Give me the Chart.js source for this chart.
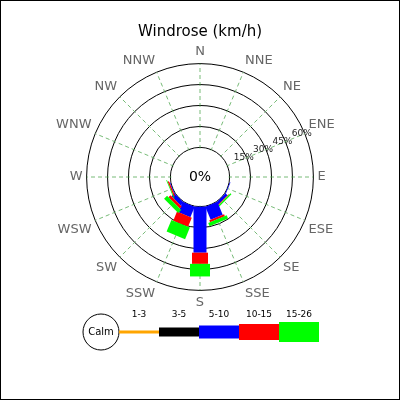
<!DOCTYPE html>
<html>
<head>
<script src="https://cdn.jsdelivr.net/npm/chart.js@4"></script>
<style>
body { margin: 0; background: #fff; }
#wrap { width: 398px; height: 398px; border: 1px solid #000; }
</style>
</head>
<body>
<div id="wrap"><canvas id="myChart" width="398" height="398"></canvas></div>
<script>
const directions = ["N", "NNE", "NE", "ENE", "E", "ESE", "SE", "SSE", "S", "SSW", "SW", "WSW", "W", "WNW", "NW", "NNW"];
const speedBins = ["1-3", "3-5", "5-10", "10-15", "15-26"];
const binColors = ["orange", "black", "blue", "red", "lime"];
const binWidths = [3, 9, 13, 16, 20];
// percent per direction, per speed bin (not cumulative)
const v1to3 = [0, 0, 0, 0, 0, 0, 0, 0, 0, 0, 0, 0, 0, 0, 0, 0];
const v3to5 = [0, 0, 0, 0, 0, 0, 0, 0, 0, 0, 0, 0, 0, 0, 0, 0];
const v5to10 = [0, 0, 0, 0, 0, 0.5, 2, 10, 33, 8, 3, 0.5, 0, 0, 0, 0];
const v10to15 = [0, 0, 0, 0, 0, 0, 0.5, 1.5, 8, 7, 2, 1, 0, 0, 0, 0];
const v15to26 = [0, 0, 0, 0, 0, 0, 1, 2.5, 9, 9, 3, 0.5, 0, 0, 0, 0];
const ringTicks = [0, 15, 30, 45, 60];
const calmLabel = "0%";

const series = [v1to3, v3to5, v5to10, v10to15, v15to26];

const rosePlugin = {
    id: "rose",
    beforeDatasetsDraw(chart) {
        const sc = chart.scales.r;
        const ctx = chart.ctx;
        ctx.save();
        // blank the calm circle
        ctx.beginPath();
        ctx.arc(sc.xCenter, sc.yCenter, sc.getDistanceFromCenterForValue(0) - 1, 0, Math.PI * 2);
        ctx.fillStyle = "#fff";
        ctx.fill();
        // bars
        ctx.lineCap = "butt";
        for (let d = 0; d < directions.length; d++) {
            let base = 0;
            for (let b = 0; b < series.length; b++) {
                const val = series[b][d];
                if (val > 0) {
                    const p0 = sc.getPointPosition(d, sc.getDistanceFromCenterForValue(base));
                    const p1 = sc.getPointPosition(d, sc.getDistanceFromCenterForValue(base + val));
                    ctx.beginPath();
                    ctx.moveTo(p0.x, p0.y);
                    ctx.lineTo(p1.x, p1.y);
                    ctx.strokeStyle = binColors[b];
                    ctx.lineWidth = binWidths[b];
                    ctx.stroke();
                }
                base += val;
            }
        }
        // center text
        ctx.fillStyle = "#000";
        ctx.font = "14px DejaVu Sans";
        ctx.textAlign = "center";
        ctx.textBaseline = "middle";
        ctx.fillText(calmLabel, sc.xCenter, sc.yCenter);
        // ring labels along ENE
        ctx.font = "9px DejaVu Sans";
        ctx.fillStyle = "#222";
        ringTicks.slice(1).forEach(t => {
            const p = sc.getPointPosition(3, sc.getDistanceFromCenterForValue(t));
            ctx.fillText(t + "%", p.x - 3, p.y);
        });
        // legend
        const ly = 331;
        ctx.beginPath();
        ctx.arc(100, ly, 18, 0, Math.PI * 2);
        ctx.fillStyle = "#fff";
        ctx.fill();
        ctx.lineWidth = 1;
        ctx.strokeStyle = "#000";
        ctx.stroke();
        ctx.fillStyle = "#000";
        ctx.font = "10px DejaVu Sans";
        ctx.fillText("Calm", 100, ly);
        for (let b = 0; b < speedBins.length; b++) {
            const x0 = 118 + b * 40;
            ctx.fillStyle = binColors[b];
            ctx.fillRect(x0, ly - binWidths[b] / 2, 40, binWidths[b]);
            ctx.fillStyle = "#000";
            ctx.font = "9px DejaVu Sans";
            ctx.fillText(speedBins[b], x0 + 20, 314);
        }
        ctx.restore();
    }
};

myChart = new Chart(document.getElementById("myChart"), {
    type: "radar",
    data: {
        labels: directions,
        datasets: series.map((s, i) => ({
            label: speedBins[i],
            data: s,
            borderWidth: 0,
            pointRadius: 0,
            backgroundColor: "transparent",
            borderColor: "transparent"
        }))
    },
    options: {
        responsive: false,
        animation: false,
        layout: { padding: { top: 16, bottom: 88, left: 15, right: 15 } },
        plugins: {
            legend: { display: false },
            tooltip: { enabled: false },
            title: {
                display: true,
                text: "Windrose (km/h)",
                color: "#000",
                font: { family: "DejaVu Sans", size: 15, weight: "normal" },
                padding: { top: 6, bottom: 4 }
            }
        },
        scales: {
            r: {
                min: -21.2,
                max: 60,
                afterBuildTicks: sc => { sc.ticks = ringTicks.map(v => ({ value: v })); },
                ticks: { display: false },
                grid: { circular: true, color: "#000", lineWidth: 1 },
                angleLines: { color: "#5a5", borderDash: [4, 3], lineWidth: 0.8 },
                pointLabels: {
                    color: "#666",
                    font: { family: "DejaVu Sans", size: 13 },
                    padding: 4
                }
            }
        }
    },
    plugins: [rosePlugin]
});
</script>
</body>
</html>
